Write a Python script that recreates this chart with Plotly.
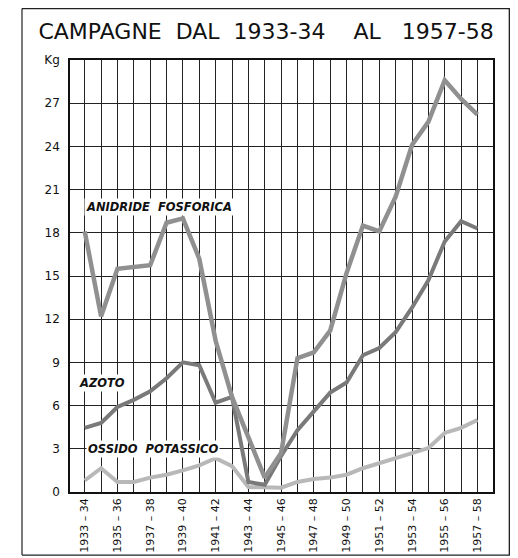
import plotly.graph_objects as go

seasons = ["1933 – 34", "1934 – 35", "1935 – 36", "1936 – 37", "1937 – 38", "1938 – 39",
           "1939 – 40", "1940 – 41", "1941 – 42", "1942 – 43", "1943 – 44", "1944 – 45",
           "1945 – 46", "1946 – 47", "1947 – 48", "1948 – 49", "1949 – 50", "1950 – 51",
           "1951 – 52", "1952 – 53", "1953 – 54", "1954 – 55", "1955 – 56", "1956 – 57",
           "1957 – 58"]

anidride_fosforica = [18.1, 12.2, 15.5, 15.65, 15.75, 18.7, 19.0, 16.2, 10.5, 6.6, 3.8, 1.0,
                      2.7, 9.3, 9.7, 11.2, 15.2, 18.5, 18.1, 20.5, 24.1, 25.7, 28.6, 27.3, 26.2]
azoto = [4.45, 4.8, 5.9, 6.4, 7.0, 7.9, 9.0, 8.8, 6.2, 6.6, 0.7, 0.5,
         2.5, 4.3, 5.6, 6.9, 7.6, 9.5, 10.0, 11.1, 12.8, 14.7, 17.4, 18.8, 18.3]
ossido_potassico = [0.8, 1.65, 0.7, 0.7, 1.0, 1.2, 1.5, 1.85, 2.35, 1.8, 0.35, 0.3,
                    0.3, 0.7, 0.9, 1.0, 1.2, 1.65, 2.0, 2.3, 2.7, 3.05, 4.1, 4.45, 5.0]

y_ticks = [0, 3, 6, 9, 12, 15, 18, 21, 24, 27, 30]
y_ticktext = ["0", "3", "6", "9", "12", "15", "18", "21", "24", "27", "Kg"]

idx = list(range(len(seasons)))
x_ticktext = [s if i % 2 == 0 else "" for i, s in enumerate(seasons)]

NB = "\u00a0"

fig = go.Figure()
fig.add_trace(go.Scatter(x=idx, y=ossido_potassico, mode="lines",
                         line=dict(color="#b8b8b8", width=4), name="Ossido potassico"))
fig.add_trace(go.Scatter(x=idx, y=azoto, mode="lines",
                         line=dict(color="#7a7a7a", width=4), name="Azoto"))
fig.add_trace(go.Scatter(x=idx, y=anidride_fosforica, mode="lines",
                         line=dict(color="#909090", width=4.5), name="Anidride fosforica"))

title_text = "CAMPAGNE" + NB * 2 + "DAL" + NB * 2 + "1933-34" + NB * 4 + "AL" + NB * 3 + "1957-58"

fig.update_layout(
    width=510, height=550,
    margin=dict(l=62, r=25, t=52, b=66, autoexpand=False),
    paper_bgcolor="white", plot_bgcolor="white",
    showlegend=False,
    font=dict(family="DejaVu Sans", color="#111"),
    title=dict(text=title_text, x=0.506, xanchor="center",
               y=0.958, yanchor="middle",
               font=dict(family="DejaVu Sans", size=22, color="#111")),
)
fig.update_xaxes(range=[-0.9, 24.95], tickvals=idx, ticktext=x_ticktext, tickangle=-90,
                 showgrid=True, gridcolor="#222", gridwidth=1, zeroline=False,
                 showline=True, linecolor="#111", linewidth=1.5, mirror=True,
                 ticks="", tickfont=dict(size=11, color="#111"), automargin=False)
fig.update_yaxes(range=[0, 30], tickvals=y_ticks, ticktext=y_ticktext,
                 showgrid=True, gridcolor="#222", gridwidth=1, zeroline=False,
                 showline=True, linecolor="#111", linewidth=1.5, mirror=True,
                 ticks="", ticklabelstandoff=6, automargin=False,
                 tickfont=dict(size=12, color="#111"))

lab_font = dict(family="DejaVu Sans", size=11.5, color="#111", style="italic", weight="bold")
fig.add_annotation(x=-0.03, y=19.8, text="ANIDRIDE" + NB * 2 + "FOSFORICA", showarrow=False,
                   xanchor="left", yanchor="middle", bgcolor="white", font=lab_font)
fig.add_annotation(x=-0.46, y=7.6, text="AZOTO", showarrow=False,
                   xanchor="left", yanchor="middle", bgcolor="white", font=lab_font)
fig.add_annotation(x=0.05, y=3.0, text="OSSIDO" + NB * 2 + "POTASSICO", showarrow=False,
                   xanchor="left", yanchor="middle", bgcolor="white", font=lab_font)

# outer frame
top_y = 1.119
bot_y = -0.146
left_x = -0.1135
right_x = 1.040
fig.add_shape(type="line", xref="paper", yref="paper", x0=left_x, x1=right_x, y0=top_y, y1=top_y,
              line=dict(color="#222", width=1.2))
fig.add_shape(type="line", xref="paper", yref="paper", x0=left_x, x1=left_x, y0=top_y, y1=bot_y,
              line=dict(color="#222", width=1.2))
fig.add_shape(type="line", xref="paper", yref="paper", x0=right_x, x1=right_x, y0=top_y, y1=bot_y,
              line=dict(color="#222", width=2.5))
fig.add_shape(type="line", xref="paper", yref="paper", x0=left_x, x1=right_x, y0=bot_y, y1=bot_y,
              line=dict(color="#222", width=1.2))

fig.write_html("out.html")
